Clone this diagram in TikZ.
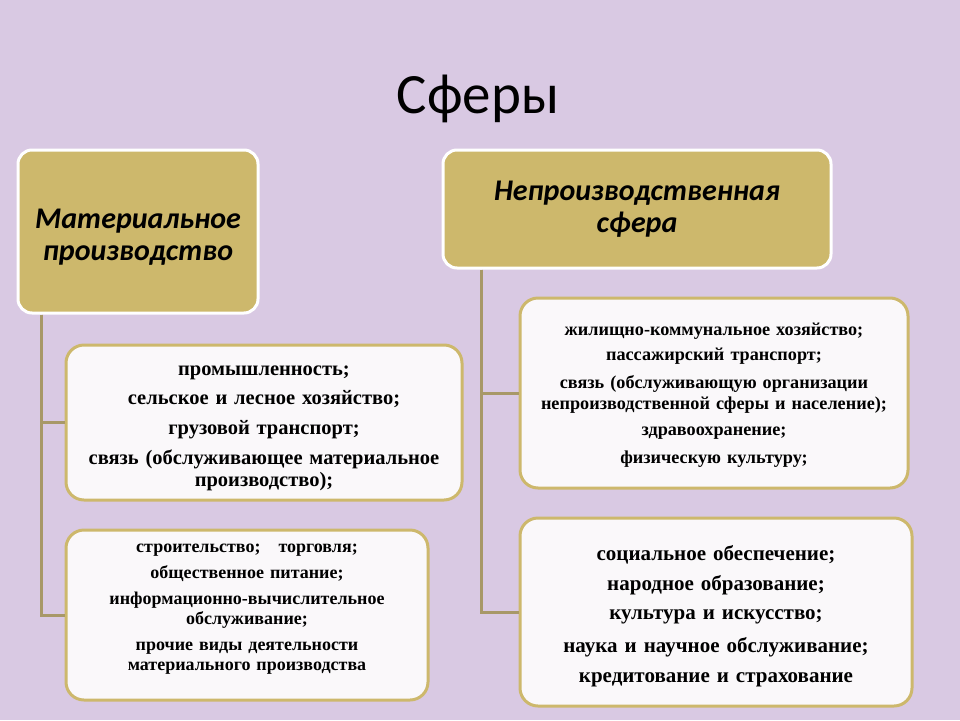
\documentclass[tikz,border=0pt]{standalone}
\usepackage{fontspec}
\setmainfont{Liberation Serif}
\newfontfamily\hdfont{Carlito}
\definecolor{bgc}{HTML}{D9C9E3}
\definecolor{goldc}{HTML}{CDB86C}
\definecolor{linec}{HTML}{A89868}
\definecolor{boxc}{HTML}{FAF8FA}
\tikzset{
  headbox/.style={draw=white, line width=3pt, fill=goldc, rounded corners=14pt,
    align=center, inner sep=0pt, font=\hdfont\bfseries\itshape\fontsize{30}{32}\selectfont},
  itembox/.style={draw=goldc, line width=3pt, fill=boxc, rounded corners=18pt,
    align=center, inner sep=0pt, font=\bfseries},
  conn/.style={draw=linec, line width=3pt}
}
\begin{document}
\begin{tikzpicture}[x=1pt,y=-1pt]
\fill[bgc] (0,0) rectangle (960,720);
\useasboundingbox (0,0) rectangle (960,720);
\node[font=\hdfont\fontsize{57}{62}\selectfont] (title) at (478,99) {Сферы};

\node[headbox, minimum width=240pt, minimum height=163pt] (A) at (138,231.5)
  {\rule{0pt}{30pt}Материальное\\производство};
\node[headbox, minimum width=388pt, minimum height=118pt] (B) at (637,209)
  {Непроизводственная\\сфера};

\node[itembox, minimum width=396pt, minimum height=155pt, text width=385pt,
  font=\bfseries\fontsize{20.5}{22}\selectfont] (C) at (264,422.5)
  {\rule{0pt}{22pt}промышленность;\\[7pt]
   сельское и лесное хозяйство;\\[8pt]
   грузовой транспорт;\\[8pt]
   связь (обслуживающее материальное\\ производство);};

\node[itembox, minimum width=362pt, minimum height=170pt, text width=355pt,
  font=\bfseries\fontsize{18}{20}\selectfont] (D) at (247,615)
  {строительство;\quad торговля;\\[6pt]
   общественное питание;\\[6pt]
   информационно-вычислительное\\ обслуживание;\\[6pt]
   прочие виды деятельности\\ материального производства\rule[-16pt]{0pt}{16pt}};

\node[itembox, minimum width=388pt, minimum height=190pt, text width=380pt,
  font=\bfseries\fontsize{18.2}{21}\selectfont] (E) at (714,393)
  {\rule{0pt}{16pt}жилищно-коммунальное хозяйство;\\[4pt]
   пассажирский транспорт;\\[7pt]
   связь (обслуживающую организации\\ непроизводственной сферы и население);\\[5pt]
   здравоохранение;\\[7pt]
   физическую культуру;};

\node[itembox, minimum width=392pt, minimum height=188pt, text width=385pt,
  font=\bfseries\fontsize{21}{24}\selectfont] (F) at (716,612)
  {\rule{0pt}{24pt}социальное обеспечение;\\[6pt]
   народное образование;\\[5pt]
   культура и искусство;\\[9pt]
   наука и научное обслуживание;\\[6pt]
   кредитование и страхование};

\coordinate (a1) at ([xshift=25pt]A.south west);
\coordinate (b1) at ([xshift=40pt]B.south west);
\draw[conn] (a1) |- (C.west);
\draw[conn] (a1) |- (D.west);
\draw[conn] (b1) |- (E.west);
\draw[conn] (b1) |- (F.west);
\end{tikzpicture}
\end{document}
